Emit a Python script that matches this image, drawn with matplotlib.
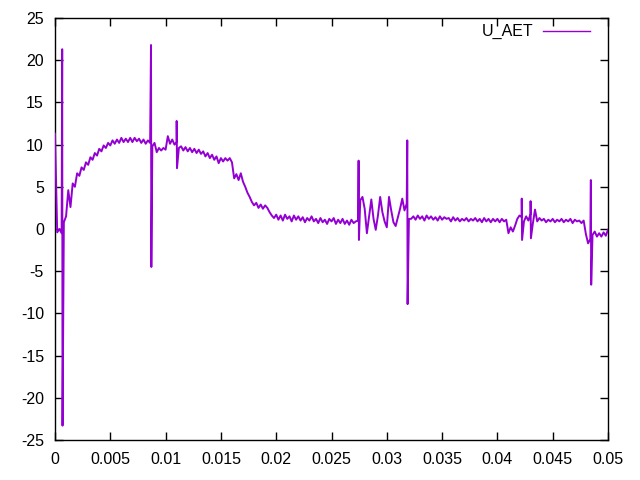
import numpy as np
import matplotlib
matplotlib.use('Agg')
import matplotlib.pyplot as plt

u_base = [
    11.3, -0.4, 0.0, -0.5, 0.8, 1.5, 4.6, 2.6, 5.4, 5.0,
    6.6, 6.3, 7.3, 7.0, 7.9, 7.6, 8.5, 8.2, 9.0, 8.7,
    9.5, 9.2, 9.9, 9.6, 10.2, 9.9, 10.5, 10.1, 10.6, 10.2,
    10.8, 10.3, 10.7, 10.3, 10.8, 10.3, 10.8, 10.4, 10.7, 10.2,
    10.6, 10.1, 10.5, 10.2, 9.8, 10.2, 9.1, 9.6, 9.3, 9.6,
    9.4, 11.0, 10.1, 10.6, 10.0, 10.3, 9.6, 9.8, 9.3, 9.7,
    9.2, 9.6, 9.1, 9.5, 9.0, 9.4, 8.9, 9.2, 8.6, 9.0,
    8.4, 8.8, 8.2, 8.6, 7.8, 8.4, 8.0, 8.4, 8.1, 8.4,
    7.9, 6.0, 6.5, 5.8, 6.6, 5.6, 5.0, 4.3, 3.8, 3.2,
    2.8, 3.1, 2.5, 2.9, 2.4, 2.8, 2.5, 2.0, 1.6, 1.3,
    1.7, 1.1, 1.6, 1.0, 1.7, 1.2, 1.5, 0.9, 1.6, 1.1,
    1.5, 1.0, 1.4, 0.8, 1.3, 1.0, 1.5, 0.9, 1.2, 0.7,
    1.3, 0.8, 1.1, 0.6, 1.2, 0.9, 1.3, 0.6, 1.1, 0.7,
    1.2, 0.6, 1.0, 0.5, 1.1, 0.7, 0.9, 1.0, 3.4, 3.8,
    2.4, -0.5, 1.5, 3.5, 1.2, -0.1, 1.6, 3.8, 2.0, 0.9,
    0.2, 3.8, 2.2, 0.8, 0.35, 1.4, 2.4, 3.6, 2.2, 3.0,
    1.2, 1.2, 1.5, 1.1, 1.6, 1.2, 1.5, 1.0, 1.6, 1.2,
    1.5, 1.1, 1.4, 1.0, 1.5, 1.1, 1.4, 1.2, 1.3, 0.9,
    1.4, 1.0, 1.3, 0.9, 1.2, 1.0, 1.3, 0.9, 1.2, 1.0,
    1.3, 0.9, 1.2, 0.8, 1.3, 0.9, 1.2, 0.8, 1.2, 0.9,
    1.2, 0.8, 1.2, 0.9, 1.1, -0.5, 0.2, -0.3, 0.4, 1.2,
    1.6, 1.4, 0.9, 1.5, 1.0, 1.8, 0.6, 2.3, 0.9, 1.3,
    1.0, 1.2, 0.8, 1.1, 0.9, 1.2, 0.8, 1.1, 0.9, 1.2,
    0.8, 1.1, 0.9, 1.2, 0.7, 1.1, 0.9, 1.0, 0.7, 1.0,
    -0.6, -1.7, -1.2, -0.7, -0.3, -0.9, -0.5, -0.9, -0.4, -0.8,
    -0.1,
]
t_base_ms = np.linspace(0, 50, len(u_base))  # sampling grid

# short transients: time (ms), peak, trough
spike_ms = [0.65, 8.68, 11.0, 27.45, 31.85, 42.2, 43.0, 48.45]
spike_hi = [21.3, 21.8, 12.8, 8.1, 10.5, 3.6, 3.3, 5.8]
spike_lo = [-23.3, -4.5, 7.2, -1.3, -8.9, -1.3, -1.1, -6.6]

xticks = [0, 0.005, 0.01, 0.015, 0.02, 0.025, 0.03, 0.035, 0.04, 0.045, 0.05]
xlabels = ['0', '0.005', '0.01', '0.015', '0.02', '0.025', '0.03', '0.035', '0.04', '0.045', '0.05']
yticks = [-25, -20, -15, -10, -5, 0, 5, 10, 15, 20, 25]
ylabels = ['-25', '-20', '-15', '-10', '-5', '0', '5', '10', '15', '20', '25']

# merge spikes into the base series
t_all = list(t_base_ms)
u_all = list(u_base)
for ts, hi, lo in zip(spike_ms, spike_hi, spike_lo):
    t_all += [ts, ts + 0.03]
    u_all += [hi, lo]
order = np.argsort(t_all, kind='stable')
t = np.array(t_all)[order] / 1000.0
u = np.array(u_all)[order]

plt.rcParams['font.family'] = ['Liberation Sans', 'DejaVu Sans']
plt.rcParams['font.size'] = 11.5

fig = plt.figure(figsize=(6.4, 4.8), dpi=100)
ax = fig.add_axes([55/640, 1-440/480, 553/640, 422/480])
ax.plot(t, u, color='#9400D3', lw=1.4, label='U_AET', zorder=3)

ax.set_xlim(0, 0.05)
ax.set_ylim(-25, 25)
ax.set_xticks(xticks, xlabels)
ax.set_yticks(yticks, ylabels)
ax.tick_params(direction='in', length=6, width=1, top=True, right=True, color='black')
ax.tick_params(axis='x', pad=9)
ax.tick_params(axis='y', pad=8)
for s in ax.spines.values():
    s.set_linewidth(1.0)

leg = ax.legend(loc='upper right', bbox_to_anchor=(0.967, 0.985), frameon=False,
                markerfirst=False, handlelength=2.9, handletextpad=0.65, borderpad=0,
                borderaxespad=0)
for h in leg.get_lines():
    h.set_linewidth(1.0)

fig.savefig('out.png', dpi=100)
